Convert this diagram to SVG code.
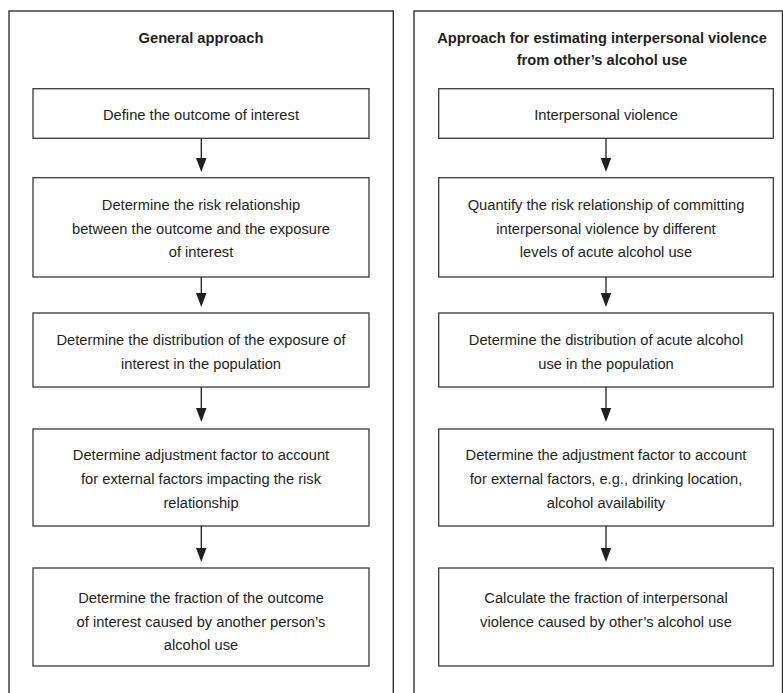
<svg xmlns="http://www.w3.org/2000/svg" width="783" height="693" viewBox="0 0 783 693">
<style>
.panel{fill:none;stroke:#333;stroke-width:1.4}
.box{fill:#fff;stroke:#3a3a3a;stroke-width:1.3}
.t{font-family:"Liberation Sans",Arial,sans-serif;font-size:14.7px;fill:#231f20;text-anchor:middle}
.h{font-family:"Liberation Sans",Arial,sans-serif;font-size:14.7px;font-weight:bold;fill:#231f20;text-anchor:middle}
.ln{stroke:#231f20;stroke-width:1.3;fill:none}
.ah{fill:#231f20}
</style>
<rect width="783" height="693" fill="#fff"/>
<g id="panel-left">
<rect class="panel" x="9" y="11" width="384.3" height="700"/>
<text class="h" x="201" y="43">General approach</text>
</g>
<g id="panel-right">
<rect class="panel" x="414" y="11" width="368.5" height="700"/>
<text class="h" x="602"><tspan x="602" y="43">Approach for estimating interpersonal violence</tspan><tspan x="602" y="65">from other’s alcohol use</tspan></text>
</g>
<g id="L1"><rect class="box" x="33" y="88.7" width="336" height="49.6"/><text class="t" x="201" y="120">Define the outcome of interest</text></g>
<g id="L2"><rect class="box" x="33" y="177.7" width="336" height="99.3"/><text class="t"><tspan x="201" y="210">Determine the risk relationship</tspan><tspan x="201" y="233.5">between the outcome and the exposure</tspan><tspan x="201" y="257">of interest</tspan></text></g>
<g id="L3"><rect class="box" x="33" y="313" width="336" height="74"/><text class="t"><tspan x="201" y="345">Determine the distribution of the exposure of</tspan><tspan x="201" y="369">interest in the population</tspan></text></g>
<g id="L4"><rect class="box" x="33" y="429" width="336" height="97"/><text class="t"><tspan x="201" y="460">Determine adjustment factor to account</tspan><tspan x="201" y="484">for external factors impacting the risk</tspan><tspan x="201" y="508">relationship</tspan></text></g>
<g id="L5"><rect class="box" x="33" y="568" width="336" height="98"/><text class="t"><tspan x="201" y="603">Determine the fraction of the outcome</tspan><tspan x="201" y="627">of interest caused by another person’s</tspan><tspan x="201" y="650">alcohol use</tspan></text></g>
<g id="R1"><rect class="box" x="438.7" y="88.7" width="334.6" height="49.6"/><text class="t" x="606" y="120">Interpersonal violence</text></g>
<g id="R2"><rect class="box" x="438.7" y="177.7" width="334.6" height="99.3"/><text class="t"><tspan x="606" y="210">Quantify the risk relationship of committing</tspan><tspan x="606" y="233.5">interpersonal violence by different</tspan><tspan x="606" y="257">levels of acute alcohol use</tspan></text></g>
<g id="R3"><rect class="box" x="438.7" y="313" width="334.6" height="74"/><text class="t"><tspan x="606" y="345">Determine the distribution of acute alcohol</tspan><tspan x="606" y="369">use in the population</tspan></text></g>
<g id="R4"><rect class="box" x="438.7" y="429" width="334.6" height="97"/><text class="t"><tspan x="606" y="460">Determine the adjustment factor to account</tspan><tspan x="606" y="484">for external factors, e.g., drinking location,</tspan><tspan x="606" y="508">alcohol availability</tspan></text></g>
<g id="R5"><rect class="box" x="438.7" y="568" width="334.6" height="98"/><text class="t"><tspan x="606" y="603">Calculate the fraction of interpersonal</tspan><tspan x="606" y="627">violence caused by other’s alcohol use</tspan></text></g>
<g id="connectors">
<path class="ln" d="M201.3 138.3V160M201.3 277V295M201.3 387V410M201.3 526V550"/>
<path class="ah" d="M196 158L206.5 158L201.3 172Z M196 293L206.5 293L201.3 307Z M196 408L206.5 408L201.3 422Z M196 548L206.5 548L201.3 562Z"/>
<path class="ln" d="M606 138.3V160M606 277V295M606 387V410M606 526V550"/>
<path class="ah" d="M600.7 158L611.2 158L606 172Z M600.7 293L611.2 293L606 307Z M600.7 408L611.2 408L606 422Z M600.7 548L611.2 548L606 562Z"/>
</g>
</svg>
